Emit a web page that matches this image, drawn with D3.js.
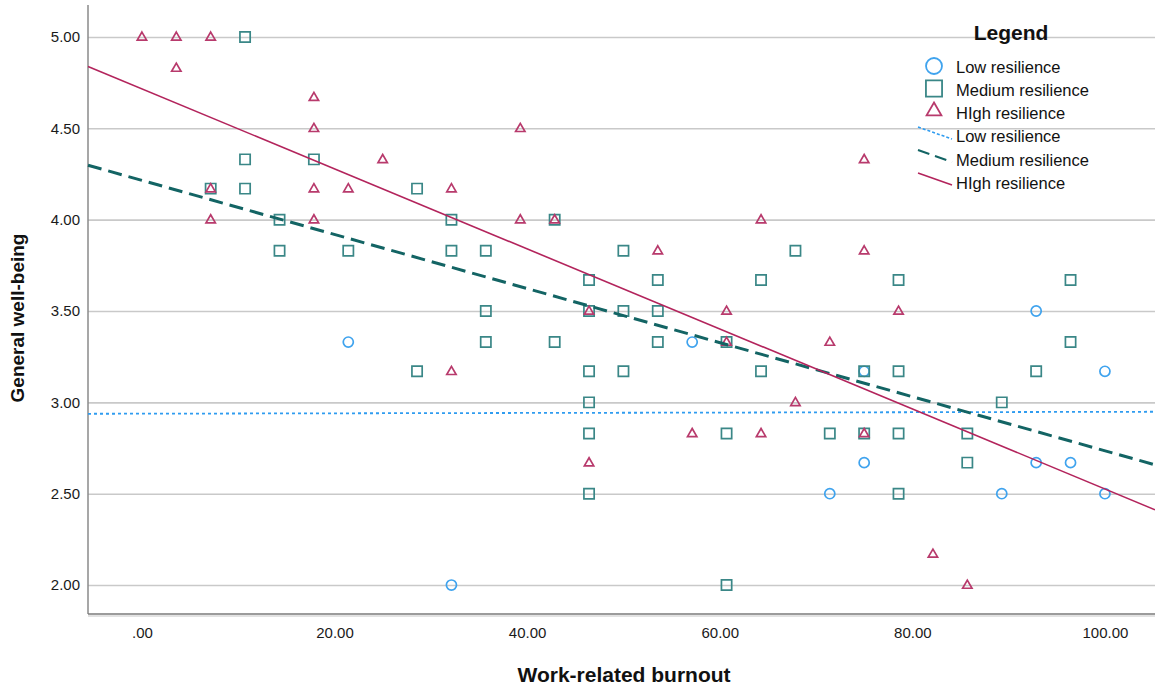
<!DOCTYPE html>
<html>
<head>
<meta charset="utf-8">
<script src="https://cdn.jsdelivr.net/npm/d3@7"></script>
<style>
  body { margin: 0; background: #fff; }
  svg { display: block; font-family: "Liberation Sans", Arial, sans-serif; }
</style>
</head>
<body>
<div class="chart"><svg width="1155" height="689"></svg></div>
<script>
const groups = ['Low resilience', 'Medium resilience', 'HIgh resilience'];
const groupColors = ['#3fa3ee', '#3a8787', '#b83a6c'];
const lineColors = ['#2f9cf0', '#136464', '#b3245c'];

const yTicks = [2, 2.5, 3, 3.5, 4, 4.5, 5];
const xTicks = [0, 20, 40, 60, 80, 100];

// burnout, well-being
const lowPoints = [
  [21.43, 3.33], [32.14, 2.00], [57.14, 3.33], [75.00, 3.17], [75.00, 2.67],
  [71.43, 2.50], [89.29, 2.50], [92.86, 3.50], [92.86, 2.67], [96.43, 2.67],
  [100.00, 3.17], [100.00, 2.50]
];

const mediumPoints = [
  [10.71, 5.00], [10.71, 4.33], [17.86, 4.33], [7.14, 4.17], [10.71, 4.17],
  [28.57, 4.17], [14.29, 4.00], [32.14, 4.00], [42.86, 4.00], [14.29, 3.83],
  [21.43, 3.83], [32.14, 3.83], [35.71, 3.83], [50.00, 3.83], [67.86, 3.83],
  [46.43, 3.67], [53.57, 3.67], [64.29, 3.67], [78.57, 3.67], [96.43, 3.67],
  [35.71, 3.50], [46.43, 3.50], [50.00, 3.50], [53.57, 3.50], [35.71, 3.33],
  [42.86, 3.33], [53.57, 3.33], [60.71, 3.33], [96.43, 3.33], [28.57, 3.17],
  [46.43, 3.17], [50.00, 3.17], [64.29, 3.17], [75.00, 3.17], [78.57, 3.17],
  [92.86, 3.17], [46.43, 3.00], [89.29, 3.00], [46.43, 2.83], [60.71, 2.83],
  [71.43, 2.83], [75.00, 2.83], [78.57, 2.83], [85.71, 2.83], [85.71, 2.67],
  [46.43, 2.50], [78.57, 2.50], [60.71, 2.00]
];

const highPoints = [
  [0.00, 5.00], [3.57, 5.00], [7.14, 5.00], [3.57, 4.83], [17.86, 4.67],
  [17.86, 4.50], [39.29, 4.50], [25.00, 4.33], [75.00, 4.33], [7.14, 4.17],
  [17.86, 4.17], [21.43, 4.17], [32.14, 4.17], [7.14, 4.00], [17.86, 4.00],
  [39.29, 4.00], [42.86, 4.00], [64.29, 4.00], [53.57, 3.83], [75.00, 3.83],
  [46.43, 3.50], [60.71, 3.50], [78.57, 3.50], [60.71, 3.33], [71.43, 3.33],
  [32.14, 3.17], [67.86, 3.00], [57.14, 2.83], [64.29, 2.83], [75.00, 2.83],
  [46.43, 2.67], [82.14, 2.17], [85.71, 2.00]
];

// fit lines: intercept, slope
const fitIntercepts = [2.938, 4.215, 4.716];
const fitSlopes = [0.0001, -0.0148, -0.0219];

const pointSets = [lowPoints, mediumPoints, highPoints];

const svg = d3.select('.chart svg');
const plotLeft = 88, plotRight = 1155, plotTop = 5, plotBottom = 614;

const x = d3.scaleLinear().domain([-5.6, 105.2]).range([plotLeft, plotRight]);
const y = d3.scaleLinear().domain([1.8415, 5.175]).range([plotBottom, plotTop]);

// gridlines
svg.append('g')
  .attr('class', 'grid')
  .attr('transform', `translate(${plotLeft},0)`)
  .call(d3.axisLeft(y).tickValues(yTicks).tickSize(-(plotRight - plotLeft)).tickFormat(''))
  .call(g => g.select('.domain').remove())
  .call(g => g.selectAll('line').attr('stroke', '#c9c9c9').attr('stroke-width', 1.6));

// y axis labels
svg.append('g')
  .attr('transform', `translate(${plotLeft},0)`)
  .call(d3.axisLeft(y).tickValues(yTicks).tickSize(0).tickPadding(8).tickFormat(d3.format('.2f')))
  .call(g => g.select('.domain').remove())
  .call(g => g.selectAll('text').attr('font-size', '15px').attr('fill', '#1a1a1a')
    .attr('font-family', '"Liberation Sans", Arial, sans-serif'));

// x axis labels
svg.append('g')
  .attr('transform', `translate(0,${plotBottom})`)
  .call(d3.axisBottom(x).tickValues(xTicks).tickSize(0).tickPadding(13)
    .tickFormat(d => d3.format('.2f')(d).replace(/^0/, '')))
  .call(g => g.select('.domain').remove())
  .call(g => g.selectAll('text').attr('font-size', '15px').attr('fill', '#1a1a1a')
    .attr('font-family', '"Liberation Sans", Arial, sans-serif'));

// axis lines
svg.append('line')
  .attr('x1', plotLeft).attr('x2', plotLeft).attr('y1', plotTop).attr('y2', plotBottom)
  .attr('stroke', '#8a8a8a').attr('stroke-width', 1.5);
svg.append('line')
  .attr('x1', plotLeft).attr('x2', plotRight).attr('y1', plotBottom).attr('y2', plotBottom)
  .attr('stroke', '#7a7a7a').attr('stroke-width', 1.5);
svg.append('line')
  .attr('x1', plotLeft).attr('x2', plotRight).attr('y1', plotBottom + 2).attr('y2', plotBottom + 2)
  .attr('stroke', '#d8d8d8').attr('stroke-width', 1.5);

// markers
const symbolTypes = [d3.symbolCircle, d3.symbolSquare, d3.symbolTriangle];
const symbolSizes = [80, 105, 38];

const markers = svg.append('g').attr('class', 'points');
pointSets.forEach((pts, i) => {
  markers.append('g')
    .selectAll('path')
    .data(pts)
    .enter().append('path')
    .attr('d', d3.symbol().type(symbolTypes[i]).size(symbolSizes[i]))
    .attr('transform', d => `translate(${x(d[0])},${y(d[1]) + (i === 2 ? 0.5 : 0)})`)
    .attr('fill', 'none')
    .attr('stroke', groupColors[i])
    .attr('stroke-width', 1.7);
});

// fit lines
const dashes = ['3,3', '14,7', null];
const lineWidths = [1.8, 3, 1.6];
const xDom = x.domain();
svg.append('g')
  .attr('class', 'fits')
  .selectAll('line')
  .data(groups)
  .enter().append('line')
  .attr('x1', x(xDom[0]))
  .attr('x2', x(xDom[1]))
  .attr('y1', (d, i) => y(fitIntercepts[i] + fitSlopes[i] * xDom[0]))
  .attr('y2', (d, i) => y(fitIntercepts[i] + fitSlopes[i] * xDom[1]))
  .attr('stroke', (d, i) => lineColors[i])
  .attr('stroke-width', (d, i) => lineWidths[i])
  .attr('stroke-dasharray', (d, i) => dashes[i]);

// axis titles
svg.append('text')
  .attr('x', 624).attr('y', 682)
  .attr('text-anchor', 'middle')
  .attr('font-size', '21px').attr('font-weight', 'bold').attr('fill', '#111')
  .text('Work-related burnout');

svg.append('text')
  .attr('transform', 'translate(24,318) rotate(-90)')
  .attr('text-anchor', 'middle')
  .attr('font-size', '19px').attr('font-weight', 'bold').attr('fill', '#111')
  .text('General well-being');

// legend
const legend = svg.append('g').attr('class', 'legend');
legend.append('text')
  .attr('x', 1011).attr('y', 40)
  .attr('text-anchor', 'middle')
  .attr('font-size', '21px').attr('font-weight', 'bold').attr('fill', '#111')
  .text('Legend');

const legendSizes = [200, 260, 95];
legend.selectAll('.sym')
  .data(groups)
  .enter().append('path')
  .attr('class', 'sym')
  .attr('d', (d, i) => d3.symbol().type(symbolTypes[i]).size(legendSizes[i])())
  .attr('transform', (d, i) => `translate(934,${66 + i * 22.5})`)
  .attr('fill', 'none')
  .attr('stroke', (d, i) => groupColors[i])
  .attr('stroke-width', 1.8);

legend.selectAll('.symText')
  .data(groups)
  .enter().append('text')
  .attr('class', 'symText')
  .attr('x', 956).attr('y', (d, i) => 73 + i * 23)
  .attr('font-size', '16.5px').attr('fill', '#111')
  .text(d => d);

legend.selectAll('.lineSym')
  .data(groups)
  .enter().append('line')
  .attr('class', 'lineSym')
  .attr('x1', 918).attr('x2', 952)
  .attr('y1', (d, i) => 127 + i * 23)
  .attr('y2', (d, i) => 139 + i * 23)
  .attr('stroke', (d, i) => lineColors[i])
  .attr('stroke-width', (d, i) => [1.6, 2, 1.6][i])
  .attr('stroke-dasharray', (d, i) => ['3,2', '12,6', null][i]);

legend.selectAll('.lineText')
  .data(groups)
  .enter().append('text')
  .attr('class', 'lineText')
  .attr('x', 956).attr('y', (d, i) => 142 + i * 23.5)
  .attr('font-size', '16.5px').attr('fill', '#111')
  .text(d => d);
</script>
</body>
</html>
